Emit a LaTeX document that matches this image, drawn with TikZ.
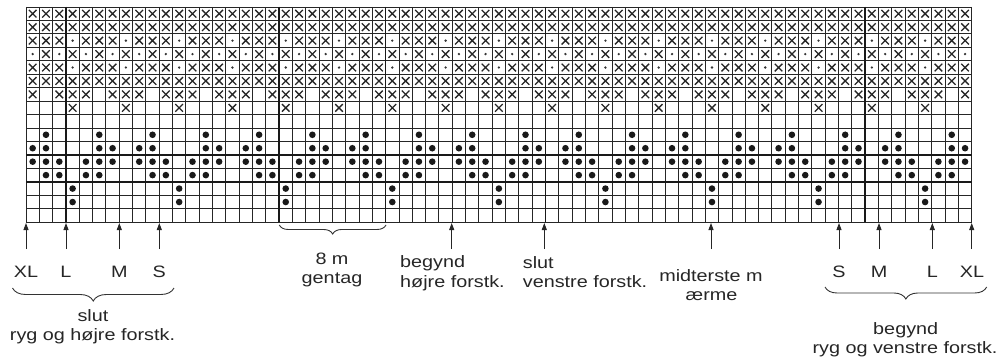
\documentclass[tikz,border=0pt]{standalone}
\usepackage{fontspec}
\setmainfont{Liberation Sans}[FakeStretch=1.2]
\usetikzlibrary{arrows.meta,decorations.pathreplacing}
\def\chx{26}
\def\chw{13.32}
\def\chy{7}
\def\chh{13.45}
\newcommand\kX[2]{\draw[xline] ({\chx+(#1+0.5)*\chw-3.8},{\chy+(#2+0.5)*\chh-3.8}) -- ++(7.6,7.6) ({\chx+(#1+0.5)*\chw-3.8},{\chy+(#2+0.5)*\chh+3.8}) -- ++(7.6,-7.6);}
\newcommand\kS[2]{\fill[smalldot] ({\chx+(#1+0.5)*\chw},{\chy+(#2+0.5)*\chh}) circle (1.3);}
\newcommand\kB[2]{\fill[bigdot] ({\chx+(#1+0.5)*\chw},{\chy+(#2+0.5)*\chh}) circle (3.3);}
\begin{document}
\begin{tikzpicture}[x=1pt,y=-1pt,
  gridline/.style={line width=0.9pt, black!85},
  heavyline/.style={line width=1.5pt, black!90},
  xline/.style={line width=1.3pt, black!85},
  bigdot/.style={fill=black!90},
  smalldot/.style={fill=black!80},
  lab/.style={font=\fontsize{16.5}{19}\selectfont, inner sep=0pt, text=black!85},
  pointer/.style={line width=0.9pt, black!85, -{Triangle[length=7pt,width=5pt]}},
  brc/.style={decorate, decoration={brace, mirror, amplitude=#1}, line width=0.9pt, black!80},
]
\useasboundingbox (0,0) rectangle (1003,361);
\begin{scope}
\clip (0,0) rectangle (1003,361);
\node[lab, anchor=base west] (title) at (40,-3) {Diagram};
\end{scope}
% grid
\foreach \c in {0,...,71} \draw[gridline] ({\chx+\c*\chw},\chy) -- ({\chx+\c*\chw},{\chy+16*\chh});
\foreach \r in {0,...,16} \draw[gridline] (\chx,{\chy+\r*\chh}) -- ({\chx+71*\chw},{\chy+\r*\chh});
\foreach \c in {3,19,27,39,63} \draw[heavyline] ({\chx+\c*\chw},\chy) -- ({\chx+\c*\chw},{\chy+16*\chh});
\foreach \r in {11,13} \draw[heavyline] (\chx,{\chy+\r*\chh}) -- ({\chx+71*\chw},{\chy+\r*\chh});
% symbols
\foreach \c in {0,...,70} {
  \pgfmathtruncatemacro\mf{mod(\c,4)}
  \pgfmathtruncatemacro\me{mod(\c,8)}
  \pgfmathtruncatemacro\mt{mod(\c,2)}
  \kX{\c}{0}\kX{\c}{1}\kX{\c}{5}
  \ifnum\mf=3 \kS{\c}{2}\kS{\c}{4}\kX{\c}{7}\else\kX{\c}{2}\kX{\c}{4}\fi
  \ifnum\mt=0 \kS{\c}{3}\else\kX{\c}{3}\fi
  \ifnum\mf=1 \kB{\c}{9}\else\kX{\c}{6}\fi
  \ifnum\mf=3 \else\kB{\c}{11}\fi
  \pgfmathtruncatemacro\ra{(\me==0)||(\me==1)||(\me==5)||(\me==6)}
  \ifnum\ra=1 \kB{\c}{10}\fi
  \pgfmathtruncatemacro\rb{(\me==1)||(\me==2)||(\me==4)||(\me==5)}
  \ifnum\rb=1 \kB{\c}{12}\fi
  \ifnum\me=3 \kB{\c}{13}\kB{\c}{14}\fi
}
% arrow coordinates
\foreach \n/\x in {lXL/26, lL/66, lM/119.3, lS/159.3, bh/451.7, sv/544.3, mid/711, rS/839, rM/879, rL/932.3, rXL/971.7} {
  \coordinate (p\n) at (\x,249);
  \coordinate (t\n) at (\x,223);
}
\foreach \n in {lXL,lL,lM,lS,bh,sv,mid,rS,rM,rL,rXL} \draw[pointer] (p\n) -- (t\n);
% size labels
\node[lab, anchor=base] (slXL) at (26,277) {XL};
\node[lab, anchor=base] (slL) at (66,277) {L};
\node[lab, anchor=base] (slM) at (119.3,277) {M};
\node[lab, anchor=base] (slS) at (159.3,277) {S};
\node[lab, anchor=base] (srS) at (839,277) {S};
\node[lab, anchor=base] (srM) at (879,277) {M};
\node[lab, anchor=base] (srL) at (932.3,277) {L};
\node[lab, anchor=base] (srXL) at (972,277) {XL};
% braces
\coordinate (bl1) at (12.5,288); \coordinate (bl2) at (174,288);
\draw[brc=13] (bl1) -- (bl2);
\coordinate (bm1) at (279.3,225); \coordinate (bm2) at (386,225);
\draw[brc=9] (bm1) -- (bm2);
\coordinate (br1) at (825,287); \coordinate (br2) at (986.7,287);
\draw[brc=12] (br1) -- (br2);
% texts
\node[lab, anchor=base] (rep1) at (332,264) {8 m};
\node[lab, anchor=base] (rep2) at (332,283.5) {gentag};
\node[lab, anchor=base west] (bh1) at (400,267.5) {begynd};
\node[lab, anchor=base west] (bh2) at (400,287) {højre forstk.};
\node[lab, anchor=base west] (sv1) at (522.7,268) {slut};
\node[lab, anchor=base west] (sv2) at (522.7,287) {venstre forstk.};
\node[lab, anchor=base] (md1) at (711,281) {midterste m};
\node[lab, anchor=base] (md2) at (711.5,300.5) {ærme};
\node[lab, anchor=base] (sl1) at (93,321.5) {slut};
\node[lab, anchor=base] (sl2) at (92.5,340.5) {ryg og højre forstk.};
\node[lab, anchor=base] (br1t) at (905.7,334) {begynd};
\node[lab, anchor=base] (br2t) at (905,353.3) {ryg og venstre forstk.};
\end{tikzpicture}
\end{document}
